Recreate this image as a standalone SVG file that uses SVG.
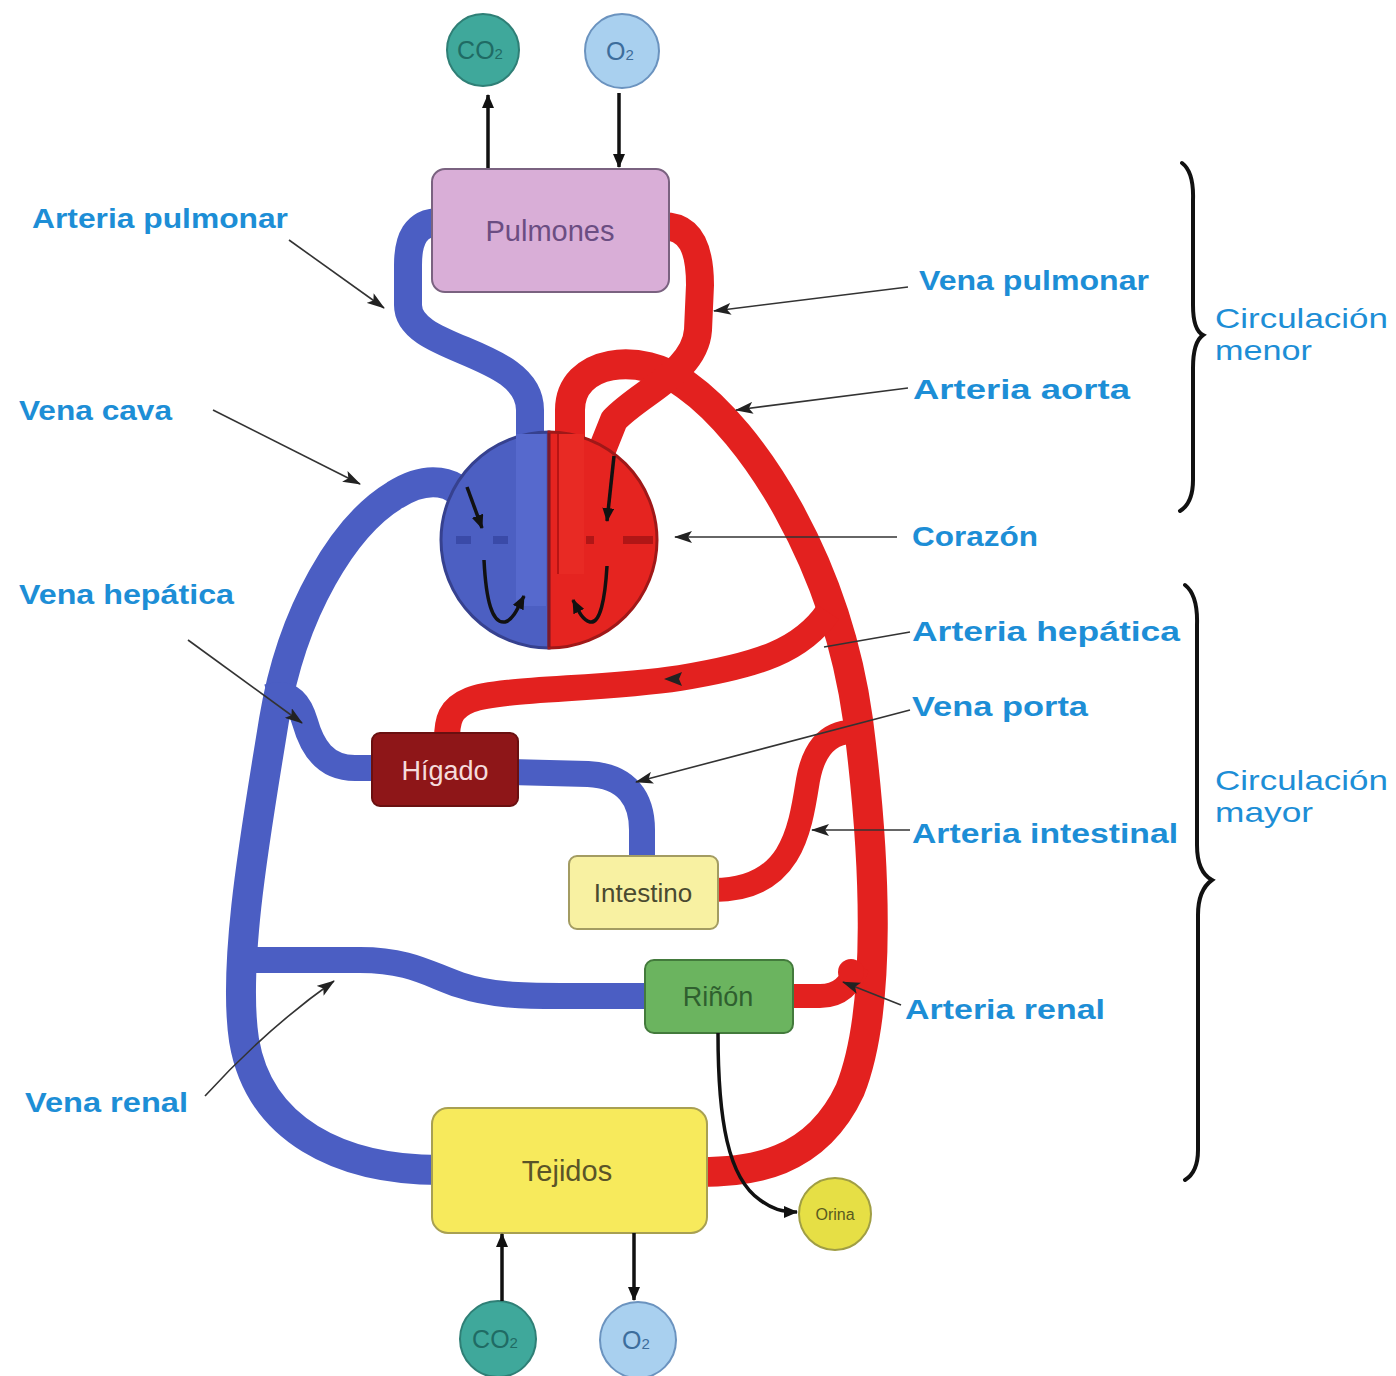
<svg xmlns="http://www.w3.org/2000/svg" width="1396" height="1376" viewBox="0 0 1396 1376">
<style>
.v{fill:none;stroke-linecap:butt;stroke-linejoin:round}
.b{stroke:#4b5ec3}
.r{stroke:#e3211f}
.lbl{font-family:"Liberation Sans",Arial,sans-serif;font-weight:bold;font-size:28px;fill:#1d8ed6}
.circ{font-family:"Liberation Sans",Arial,sans-serif;font-size:28px;fill:#1d8ed6}
.lead{stroke:#333;stroke-width:1.6;fill:none}
.flow{stroke:#111;stroke-width:3.5;fill:none}
.nt{font-family:"Liberation Sans",Arial,sans-serif;text-anchor:middle}
.gt{font-family:"Liberation Sans",Arial,sans-serif;font-size:25px;text-anchor:middle}
.brace{fill:none;stroke:#111;stroke-width:4;stroke-linecap:round}
</style>
<defs>
<marker id="ah" viewBox="0 0 14 12" refX="13" refY="6" markerWidth="14" markerHeight="12" markerUnits="userSpaceOnUse" orient="auto">
<path d="M0,0 L14,6 L0,12 z" fill="#111"/>
</marker>
<marker id="lh" viewBox="0 0 18 12" refX="17" refY="6" markerWidth="18" markerHeight="12" markerUnits="userSpaceOnUse" orient="auto">
<path d="M0,0 L18,6 L0,12 L4,6 z" fill="#222"/>
</marker>
</defs>
<rect width="1396" height="1376" fill="#ffffff"/>

<g id="connectors-vessels">
<path class="v b" stroke-width="28" d="M440,222 C415,222 408,240 408,265 L408,305 C408,352 530,350 530,410 L530,600"/>
<path class="v b" stroke-width="30" d="M472,510 C458,476 425,476 395,495 C345,525 292,610 274,720 C258,820 232,960 244,1040 C259,1130 340,1170 440,1170"/>
<path class="v b" stroke-width="26" d="M268,697 C292,690 300,705 305,722 C312,747 325,768 355,768 L380,768"/>
<path class="v b" stroke-width="26" d="M510,772 L588,774 C628,776 642,800 642,830 L642,862"/>
<path class="v b" stroke-width="26" d="M244,960 L360,960 C410,960 430,975 460,985 C490,995 520,996 560,996 L652,996"/>
<path class="v r" stroke-width="30" d="M570,470 L570,410 C570,360 640,350 686,385 C752,432 836,560 858,720 C876,860 882,1010 850,1090 C815,1165 750,1172 700,1172"/>
<path class="v r" stroke-width="28" d="M662,226 C692,226 700,250 700,285 L698,330 C695,372 640,392 614,420 L600,455"/>
<path class="v r" stroke-width="26" d="M828,612 C802,650 760,665 680,678 C600,690 500,688 470,700 C450,708 447,720 447,740"/>
<path class="v r" stroke-width="24" d="M852,732 C826,732 813,752 808,780 C800,830 792,890 714,890"/>
<path class="v r" stroke-width="24" d="M786,996 L820,996 C840,996 850,985 858,966"/>
<circle cx="851" cy="972" r="13" fill="#e3211f"/>
</g>

<g id="heart">
<path d="M549,432 A108,108 0 0 0 549,648 Z" fill="#4c5fc2" stroke="#36418f" stroke-width="3"/>
<path d="M549,432 A108,108 0 0 1 549,648 Z" fill="#e52420" stroke="#a01818" stroke-width="3"/>
<rect x="516" y="434" width="30" height="172" fill="#5669cd"/>
<rect x="558" y="434" width="26" height="140" fill="#e82a24"/>
<line x1="558" y1="434" x2="558" y2="574" stroke="#b81414" stroke-width="2"/>
<line x1="549" y1="433" x2="549" y2="647" stroke="#7a1a2a" stroke-width="2.5"/>
<rect x="456" y="536" width="15" height="8" fill="#3a4aa8"/>
<rect x="493" y="536" width="15" height="8" fill="#3a4aa8"/>
<rect x="586" y="536" width="8" height="8" fill="#b01616"/>
<rect x="623" y="536" width="30" height="8" fill="#b01616"/>
<path class="flow" marker-end="url(#ah)" d="M467,487 L482,528"/>
<path class="flow" marker-end="url(#ah)" d="M614,456 L607,521"/>
<path class="flow" marker-end="url(#ah)" d="M484,560 C486,600 492,624 505,622 C513,620 518,608 524,596"/>
<path class="flow" marker-end="url(#ah)" d="M607,566 C605,600 600,624 590,622 C582,620 578,610 573,600"/>
</g>

<g id="pulmones">
<rect x="432" y="169" width="237" height="123" rx="13" fill="#d9aed7" stroke="#7a6280" stroke-width="2"/>
<text class="nt" x="550" y="241" fill="#6b4d82" font-size="29">Pulmones</text>
</g>

<g id="co2-top">
<circle cx="483" cy="50" r="36" fill="#3fa89b" stroke="#2f7f76" stroke-width="2"/>
<text class="gt" x="480" y="59" fill="#1f6b64">CO<tspan font-size="15">2</tspan></text>
</g>
<g id="o2-top">
<circle cx="622" cy="51" r="37" fill="#a9d0ef" stroke="#6b93bf" stroke-width="2"/>
<text class="gt" x="620" y="60" fill="#3d6d9c">O<tspan font-size="15">2</tspan></text>
</g>

<g id="higado">
<rect x="372" y="733" width="146" height="73" rx="8" fill="#8e1618" stroke="#6a1010" stroke-width="2"/>
<text class="nt" x="445" y="780" fill="#f5dcdc" font-size="27">Hígado</text>
</g>

<g id="intestino">
<rect x="569" y="856" width="149" height="73" rx="8" fill="#f8f1a2" stroke="#a39c62" stroke-width="2"/>
<text class="nt" x="643" y="902" fill="#4a4a30" font-size="26">Intestino</text>
</g>

<g id="rinon">
<rect x="645" y="960" width="148" height="73" rx="9" fill="#6bb45f" stroke="#437a3c" stroke-width="2"/>
<text class="nt" x="718" y="1006" fill="#2f5f2f" font-size="27">Riñón</text>
</g>

<g id="tejidos">
<rect x="432" y="1108" width="275" height="125" rx="16" fill="#f7ea5c" stroke="#a8a052" stroke-width="2"/>
<text class="nt" x="567" y="1181" fill="#5a5428" font-size="29">Tejidos</text>
</g>

<g id="co2-bottom">
<circle cx="498" cy="1339" r="38" fill="#3fa89b" stroke="#2f7f76" stroke-width="2"/>
<text class="gt" x="495" y="1348" fill="#1f6b64">CO<tspan font-size="15">2</tspan></text>
</g>
<g id="o2-bottom">
<circle cx="638" cy="1340" r="38" fill="#a9d0ef" stroke="#6b93bf" stroke-width="2"/>
<text class="gt" x="636" y="1349" fill="#3d6d9c">O<tspan font-size="15">2</tspan></text>
</g>

<g id="orina">
<circle cx="835" cy="1214" r="36" fill="#e6df45" stroke="#a09e44" stroke-width="2"/>
<text class="nt" x="835" y="1220" fill="#5a5a20" font-size="16">Orina</text>
</g>

<g id="connectors-arrows">
<path class="flow" marker-end="url(#ah)" d="M488,168 L488,95"/>
<path class="flow" marker-end="url(#ah)" d="M619,93 L619,167"/>
<path class="flow" marker-end="url(#ah)" d="M502,1301 L502,1234"/>
<path class="flow" marker-end="url(#ah)" d="M634,1233 L634,1300"/>
<path class="flow" stroke-width="3" marker-end="url(#ah)" d="M718,1033 C718,1120 728,1178 760,1200 C772,1209 782,1212 797,1212"/>
<path class="lead" marker-end="url(#lh)" d="M289,240 L384,308"/>
<path class="lead" marker-end="url(#lh)" d="M213,410 L360,484"/>
<path class="lead" marker-end="url(#lh)" d="M188,640 L302,723"/>
<path class="lead" marker-end="url(#lh)" d="M205,1096 Q265,1030 334,981"/>
<path class="lead" marker-end="url(#lh)" d="M908,287 L714,311"/>
<path class="lead" marker-end="url(#lh)" d="M908,388 L736,410"/>
<path class="lead" marker-end="url(#lh)" d="M897,537 L675,537"/>
<path class="lead" d="M910,632 L824,647"/>
<path d="M664,679 L682,672 L679,679 L682,686 z" fill="#222"/>
<path class="lead" marker-end="url(#lh)" d="M910,710 L636,782"/>
<path class="lead" marker-end="url(#lh)" d="M910,830 L812,830"/>
<path class="lead" marker-end="url(#lh)" d="M901,1005 L843,982"/>
</g>

<g id="labels">
<text class="lbl" x="32" y="228" textLength="256" lengthAdjust="spacingAndGlyphs">Arteria pulmonar</text>
<text class="lbl" x="19" y="420" textLength="153" lengthAdjust="spacingAndGlyphs">Vena cava</text>
<text class="lbl" x="19" y="604" textLength="215" lengthAdjust="spacingAndGlyphs">Vena hepática</text>
<text class="lbl" x="25" y="1112" textLength="163" lengthAdjust="spacingAndGlyphs">Vena renal</text>
<text class="lbl" x="919" y="290" textLength="230" lengthAdjust="spacingAndGlyphs">Vena pulmonar</text>
<text class="lbl" x="913" y="399" textLength="217" lengthAdjust="spacingAndGlyphs">Arteria aorta</text>
<text class="lbl" x="912" y="546" textLength="126" lengthAdjust="spacingAndGlyphs">Corazón</text>
<text class="lbl" x="912" y="641" textLength="268" lengthAdjust="spacingAndGlyphs">Arteria hepática</text>
<text class="lbl" x="912" y="716" textLength="176" lengthAdjust="spacingAndGlyphs">Vena porta</text>
<text class="lbl" x="912" y="843" textLength="266" lengthAdjust="spacingAndGlyphs">Arteria intestinal</text>
<text class="lbl" x="905" y="1019" textLength="200" lengthAdjust="spacingAndGlyphs">Arteria renal</text>
<text class="circ" x="1215" y="328" textLength="173" lengthAdjust="spacingAndGlyphs">Circulación</text>
<text class="circ" x="1215" y="360" textLength="97" lengthAdjust="spacingAndGlyphs">menor</text>
<text class="circ" x="1215" y="790" textLength="173" lengthAdjust="spacingAndGlyphs">Circulación</text>
<text class="circ" x="1215" y="822" textLength="98" lengthAdjust="spacingAndGlyphs">mayor</text>
</g>

<g id="braces">
<path class="brace" d="M1182,163 Q1194,172 1193,200 L1193,305 Q1193,330 1203,335 Q1193,342 1193,368 L1193,480 Q1193,503 1180,511"/>
<path class="brace" d="M1185,585 Q1198,595 1197,625 L1197,845 Q1197,872 1212,880 Q1198,890 1198,915 L1198,1150 Q1198,1172 1185,1180"/>
</g>
</svg>
